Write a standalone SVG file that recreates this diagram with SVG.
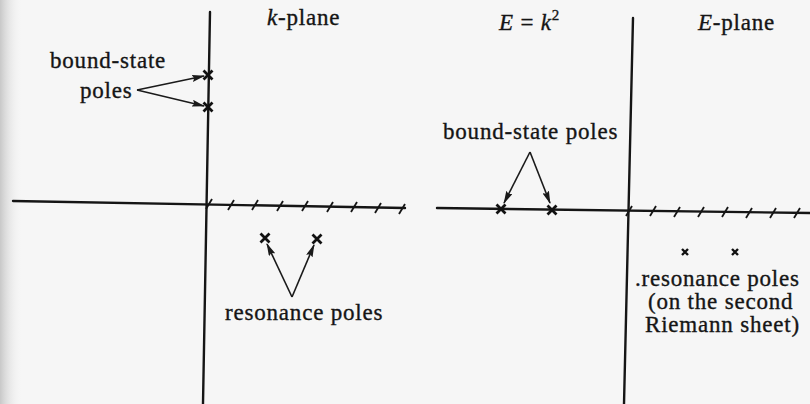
<svg xmlns="http://www.w3.org/2000/svg" xmlns:xlink="http://www.w3.org/1999/xlink" width="810" height="404" viewBox="0 0 810 404">
<defs>
<style>
.ax{stroke:#151515;stroke-width:2.4;fill:none;stroke-linecap:round}
.hs{stroke:#151515;stroke-width:1.8;fill:none}
.cr{stroke:#111;stroke-width:2.8;fill:none}
.cs{stroke:#111;stroke-width:2.4;fill:none}
.ar{stroke:#1a1a1a;stroke-width:1.6;fill:none;marker-end:url(#ah)}
text{font-family:"Liberation Serif","Times New Roman",serif;font-size:23px;fill:#151515;stroke:#151515;stroke-width:0.35;letter-spacing:0.8px}
</style>
<marker id="ah" viewBox="0 0 13 7" refX="12" refY="3.5" markerWidth="13" markerHeight="7" markerUnits="userSpaceOnUse" orient="auto">
<path d="M0,0 L13,3.5 L0,7 L2,3.5 Z" fill="#1a1a1a"/>
</marker>
<path id="h" d="M-3,5 L3,-5"/>
<path id="x" d="M-4.5,-4.5 L4.5,4.5 M4.5,-4.5 L-4.5,4.5"/>
<path id="xs" d="M-3,-3 L3,3 M3,-3 L-3,3"/>
<linearGradient id="sh" x1="0" y1="0" x2="1" y2="0">
<stop offset="0" stop-color="#c8c8c8"/>
<stop offset="1" stop-color="#f6f6f6" stop-opacity="0"/>
</linearGradient>
</defs>
<rect width="810" height="404" fill="#f6f6f6"/>
<rect width="22" height="404" fill="url(#sh)"/>

<g id="k-plane">
<path class="ax" d="M210,12 L203,404"/>
<path class="ax" d="M13,201 L405,208"/>
<g class="hs">
<use xlink:href="#h" x="209" y="204"/>
<use xlink:href="#h" x="231" y="205"/>
<use xlink:href="#h" x="255" y="205"/>
<use xlink:href="#h" x="280" y="206"/>
<use xlink:href="#h" x="305" y="206"/>
<use xlink:href="#h" x="330" y="207"/>
<use xlink:href="#h" x="354" y="207"/>
<use xlink:href="#h" x="378" y="208"/>
<use xlink:href="#h" x="402" y="209"/>
</g>
<text x="267" y="25"><tspan font-style="italic">k</tspan>-plane</text>
</g>

<g id="k-bound-state">
<use class="cr" xlink:href="#x" x="208" y="75"/>
<use class="cr" xlink:href="#x" x="208" y="107"/>
<text x="50" y="68">bound-state</text>
<text x="80" y="98">poles</text>
</g>

<g id="k-resonance">
<use class="cr" xlink:href="#x" x="265" y="238"/>
<use class="cr" xlink:href="#x" x="317" y="239"/>
<text x="225" y="320">resonance poles</text>
</g>

<g id="E-plane">
<path class="ax" d="M633,18 L624,404"/>
<path class="ax" d="M437,208 L810,213"/>
<g class="hs">
<use xlink:href="#h" x="629" y="211"/>
<use xlink:href="#h" x="653" y="211"/>
<use xlink:href="#h" x="677" y="212"/>
<use xlink:href="#h" x="701" y="212"/>
<use xlink:href="#h" x="725" y="212"/>
<use xlink:href="#h" x="749" y="213"/>
<use xlink:href="#h" x="773" y="213"/>
<use xlink:href="#h" x="797" y="213"/>
</g>
<text x="499" y="30"><tspan font-style="italic">E</tspan> = <tspan font-style="italic">k</tspan><tspan font-size="15" dy="-10">2</tspan></text>
<text x="698" y="30"><tspan font-style="italic">E</tspan>-plane</text>
</g>

<g id="E-bound-state">
<use class="cr" xlink:href="#x" x="501" y="209"/>
<use class="cr" xlink:href="#x" x="552" y="210"/>
<text x="443" y="139">bound-state poles</text>
</g>

<g id="E-resonance">
<use class="cs" xlink:href="#xs" x="685" y="252"/>
<use class="cs" xlink:href="#xs" x="735" y="252"/>
<text x="635" y="286">.resonance poles</text>
<text x="648" y="309">(on the second</text>
<text x="645" y="332">Riemann sheet)</text>
</g>

<g id="connectors">
<path class="ar" d="M137,90 L204,76"/>
<path class="ar" d="M137,90 L204,106"/>
<path class="ar" d="M292,297 L267,244"/>
<path class="ar" d="M292,297 L314,245"/>
<path class="ar" d="M530,152 L504,203"/>
<path class="ar" d="M530,152 L550,203"/>
</g>
</svg>
